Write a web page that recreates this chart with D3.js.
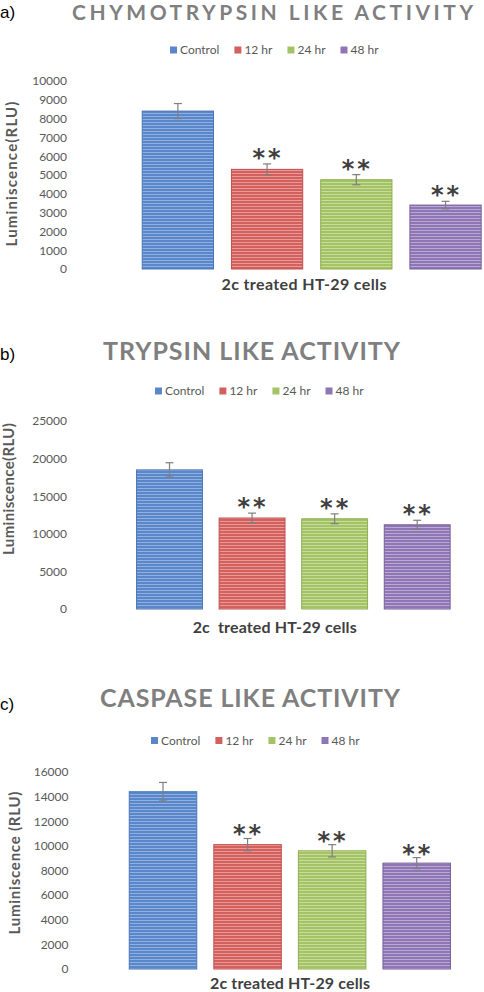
<!DOCTYPE html>
<html>
<head>
<meta charset="utf-8">
<script src="https://cdn.jsdelivr.net/npm/d3@7/dist/d3.min.js"></script>
<style>
  html, body { margin: 0; padding: 0; background: #ffffff; }
  svg { display: block; }
</style>
</head>
<body>
<svg id="chart" width="484" height="992"></svg>
<script>
// ---------- DATA ----------
const categories = ["Control", "12 hr", "24 hr", "48 hr"];
const panelLetters = ["a)", "b)", "c)"];
const titles = ["CHYMOTRYPSIN LIKE ACTIVITY", "TRYPSIN LIKE ACTIVITY", "CASPASE LIKE ACTIVITY"];
const yLabels = ["Luminiscence(RLU)", "Luminiscence(RLU)", "Luminiscence (RLU)"];
const xLabels = ["2c treated HT-29 cells", "2c\u00a0 treated HT-29 cells", "2c treated HT-29 cells"];
const significance = ["", "**", "**", "**"];

const chymoValues = [8400, 5300, 4750, 3400];
const chymoErrors = [400, 290, 270, 200];
const chymoTicks = [0, 1000, 2000, 3000, 4000, 5000, 6000, 7000, 8000, 9000, 10000];

const trypsinValues = [18500, 12100, 12000, 11200];
const trypsinErrors = [950, 650, 650, 600];
const trypsinTicks = [0, 5000, 10000, 15000, 20000, 25000];

const caspaseValues = [14400, 10100, 9600, 8600];
const caspaseErrors = [750, 500, 500, 450];
const caspaseTicks = [0, 2000, 4000, 6000, 8000, 10000, 12000, 14000, 16000];

// ---------- STYLE ----------
const baseColors = ["#5a87c9", "#d4605d", "#a4c365", "#8e76b4"];
const lineColors = ["#8fb0e0", "#e99a98", "#c6dc9c", "#b9a9d3"];
const borderColors = ["#4a75b5", "#c0504d", "#8fb04f", "#7a5e9e"];

const svg = d3.select("#chart");
const defs = svg.append("defs");
categories.forEach((c, i) => {
  const p = defs.append("pattern")
    .attr("id", "stripe" + i)
    .attr("patternUnits", "userSpaceOnUse")
    .attr("width", 8).attr("height", 3);
  p.append("rect").attr("width", 8).attr("height", 3).attr("fill", baseColors[i]);
  p.append("rect").attr("y", 2).attr("width", 8).attr("height", 1).attr("fill", lineColors[i]);
});

// ---------- LAYOUT (positions only) ----------
const panels = [
  { values: chymoValues, errors: chymoErrors, ticks: chymoTicks, domain: [0, 10000],
    yRange: [269, 81], xRange: [141.7 - 8.9, 481.7 + 8.9], tickX: 67,
    letterY: 18, titleY: 20, titleCX: 272.5, titleLen: 401, titleSize: 21,
    legendY: 50, legendX: 170,
    yLabX: 16.5, yLabCY: 174, yLabLen: 145,
    xLabCX: 304, xLabY: 290, xLabLen: 165, starOff: 11 },
  { values: trypsinValues, errors: trypsinErrors, ticks: trypsinTicks, domain: [0, 25000],
    yRange: [609, 421], xRange: [136 - 8.2, 450.7 + 8.2], tickX: 67,
    letterY: 360, titleY: 360, titleCX: 251.5, titleLen: 297, titleSize: 25,
    legendY: 391, legendX: 155,
    yLabX: 14, yLabCY: 489, yLabLen: 132,
    xLabCX: 274.7, xLabY: 633, xLabLen: 164, starOff: 11 },
  { values: caspaseValues, errors: caspaseErrors, ticks: caspaseTicks, domain: [0, 16000],
    yRange: [969, 772], xRange: [128.7 - 8.4, 451 + 8.4], tickX: 68.5,
    letterY: 710, titleY: 707, titleCX: 250, titleLen: 300, titleSize: 25,
    legendY: 740.5, legendX: 151,
    yLabX: 20, yLabCY: 863, yLabLen: 143,
    xLabCX: 290, xLabY: 989, xLabLen: 160, starOff: 9 }
];

const sans = "Lato, 'Open Sans', sans-serif";

panels.forEach((P, pi) => {
  const g = svg.append("g");
  const y = d3.scaleLinear().domain(P.domain).range(P.yRange);
  const x = d3.scaleBand().domain(categories).range(P.xRange)
    .paddingInner(0.19).paddingOuter(0.1);

  // panel letter
  g.append("text").attr("x", 0).attr("y", P.letterY)
    .attr("font-family", "'Liberation Sans', Arial, sans-serif")
    .attr("font-size", 17).attr("fill", "#000").text(panelLetters[pi]);

  // title
  g.append("text").attr("x", P.titleCX).attr("y", P.titleY)
    .attr("text-anchor", "middle")
    .attr("font-family", sans).attr("font-weight", 700)
    .attr("font-size", P.titleSize).attr("fill", "#7f7f7f")
    .attr("textLength", P.titleLen).attr("lengthAdjust", "spacing")
    .text(titles[pi]);

  // legend
  const lg = g.append("g").attr("transform", `translate(${P.legendX},${P.legendY})`);
  let cx = 0;
  categories.forEach((c, i) => {
    const it = lg.append("g").attr("transform", `translate(${cx},0)`);
    it.append("rect").attr("x", 0).attr("y", -3.5).attr("width", 7).attr("height", 7)
      .attr("fill", baseColors[i]);
    const t = it.append("text").attr("x", 10).attr("y", 4)
      .attr("font-family", sans).attr("font-size", 12).attr("fill", "#595959").text(c);
    cx += 10 + t.node().getComputedTextLength() + 15;
  });

  // y axis
  const ax = g.append("g").attr("transform", `translate(${P.tickX},0)`)
    .call(d3.axisLeft(y).tickValues(P.ticks).tickSize(0).tickPadding(0).tickFormat(d3.format("d")));
  ax.select(".domain").remove();
  ax.selectAll("text").attr("font-family", sans).attr("font-size", 12).attr("fill", "#595959");

  // y label
  g.append("text")
    .attr("transform", `translate(${P.yLabX},${P.yLabCY}) rotate(-90)`)
    .attr("text-anchor", "middle")
    .attr("font-family", sans).attr("font-weight", 700).attr("font-size", 15)
    .attr("fill", "#595959")
    .attr("textLength", P.yLabLen).attr("lengthAdjust", "spacing")
    .text(yLabels[pi]);

  // bars
  g.selectAll("rect.bar").data(P.values).enter().append("rect")
    .attr("class", "bar")
    .attr("x", (d, i) => x(categories[i]) + 0.5)
    .attr("y", d => y(d))
    .attr("width", x.bandwidth() - 1)
    .attr("height", d => y(0) - y(d))
    .attr("fill", (d, i) => `url(#stripe${i})`)
    .attr("stroke", (d, i) => borderColors[i]).attr("stroke-width", 1);

  // error bars
  const eg = g.append("g").attr("stroke", "#7f7f7f").attr("stroke-width", 1.2).attr("fill", "none");
  P.values.forEach((v, i) => {
    const cxp = x(categories[i]) + x.bandwidth() / 2;
    const e = P.errors[i];
    eg.append("line").attr("x1", cxp).attr("x2", cxp).attr("y1", y(v + e)).attr("y2", y(v - e));
    eg.append("line").attr("x1", cxp - 4).attr("x2", cxp + 4).attr("y1", y(v + e)).attr("y2", y(v + e));
    eg.append("line").attr("x1", cxp - 4).attr("x2", cxp + 4).attr("y1", y(v - e)).attr("y2", y(v - e));
    if (significance[i]) {
      g.append("text").attr("x", cxp + 1).attr("y", y(v + e) - P.starOff + 13)
        .attr("text-anchor", "middle")
        .attr("font-family", "'DejaVu Sans', sans-serif").attr("font-size", 24)
        .attr("font-weight", 700)
        .attr("letter-spacing", 3)
        .attr("fill", "#404040").text(significance[i]);
    }
  });

  // x label
  g.append("text").attr("x", P.xLabCX).attr("y", P.xLabY)
    .attr("text-anchor", "middle")
    .attr("font-family", sans).attr("font-weight", 700).attr("font-size", 16)
    .attr("fill", "#404040")
    .attr("textLength", P.xLabLen).attr("lengthAdjust", "spacing")
    .text(xLabels[pi]);
});
</script>
</body>
</html>
